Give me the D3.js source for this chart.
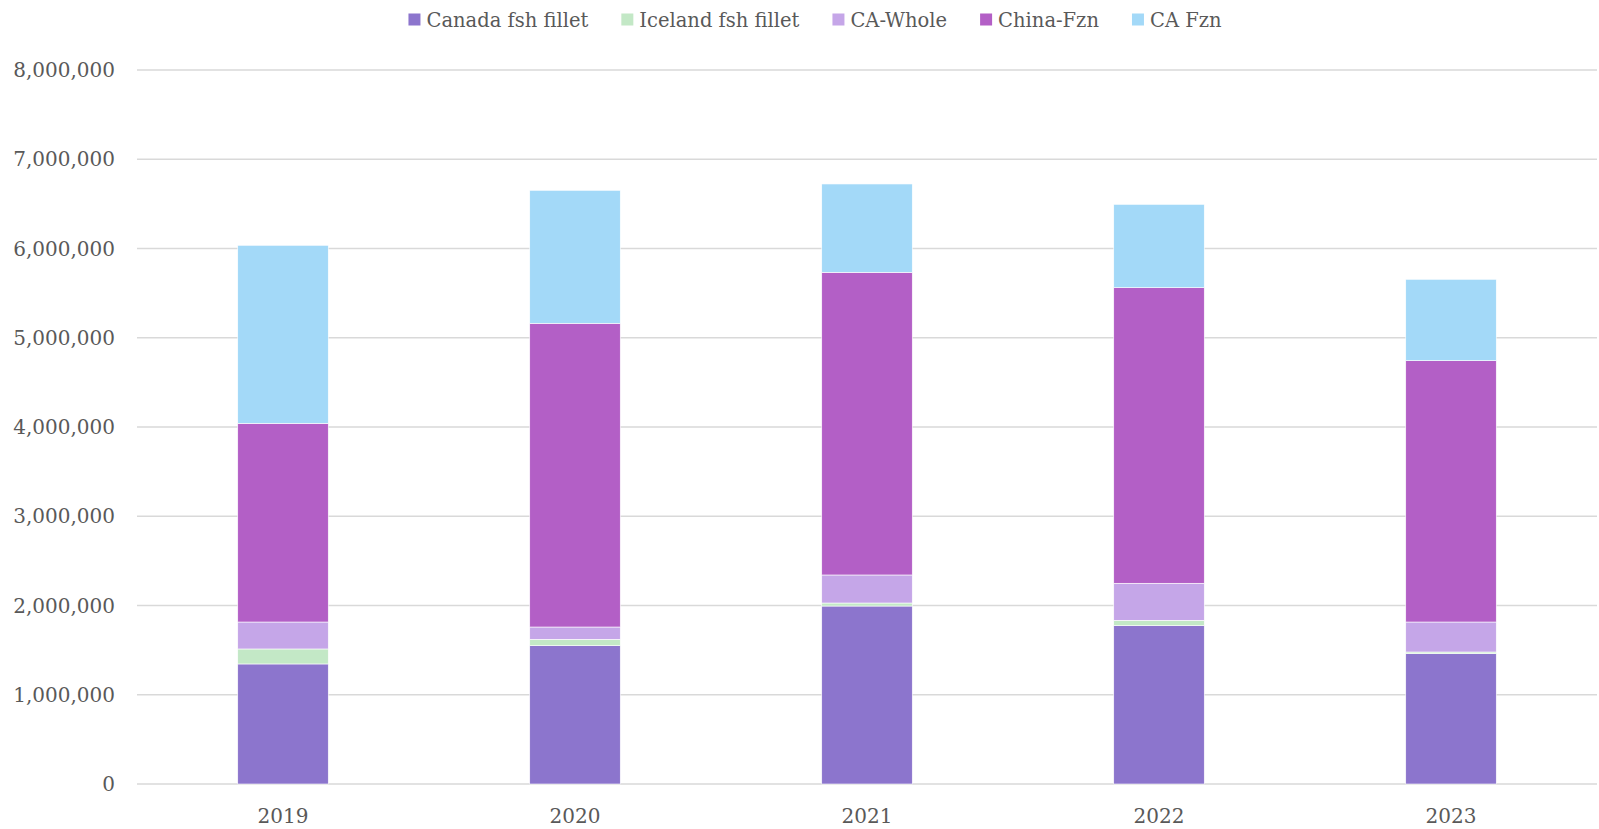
<!DOCTYPE html>
<html>
<head>
<meta charset="utf-8">
<script src="https://cdn.jsdelivr.net/npm/d3@7"></script>
<style>
  body { margin: 0; background: #fff; }
  text { font-family: "DejaVu Serif", serif; fill: #595959; }
</style>
</head>
<body>
<script>
// data
const years = ["2019", "2020", "2021", "2022", "2023"];
const seriesNames = ["Canada fsh fillet", "Iceland fsh fillet", "CA-Whole", "China-Fzn", "CA Fzn"];
const canadaFillet = [1345000, 1550000, 1994000, 1774000, 1460000];
const icelandFillet = [168000, 71000, 34000, 60000, 19000];
const caWhole = [302000, 138000, 314000, 415000, 336000];
const chinaFzn = [2226000, 3403000, 3391000, 3312000, 2928000];
const caFzn = [1995000, 1490000, 990000, 934000, 912000];
const colors = ["#8c75cd", "#c3e8c6", "#c5a6e8", "#b35fc6", "#a3d9f8"];
const yTicks = [0, 1000000, 2000000, 3000000, 4000000, 5000000, 6000000, 7000000, 8000000];

const width = 1599, height = 829;
const margin = {top: 70, right: 2, bottom: 45, left: 137};

const svg = d3.select("body").append("svg")
  .attr("width", width)
  .attr("height", height);

const table = years.map((y, i) => ({
  year: y,
  "Canada fsh fillet": canadaFillet[i],
  "Iceland fsh fillet": icelandFillet[i],
  "CA-Whole": caWhole[i],
  "China-Fzn": chinaFzn[i],
  "CA Fzn": caFzn[i]
}));

const stacked = d3.stack().keys(seriesNames)(table);

const x = d3.scaleBand()
  .domain(years)
  .range([margin.left, width - margin.right])
  .paddingInner(0.69)
  .paddingOuter(0.345);

const y = d3.scaleLinear()
  .domain([0, 8000000])
  .range([height - margin.bottom, margin.top]);

const color = d3.scaleOrdinal().domain(seriesNames).range(colors);

// gridlines
svg.append("g")
  .selectAll("line")
  .data(yTicks)
  .join("line")
  .attr("x1", margin.left)
  .attr("x2", width - margin.right)
  .attr("y1", d => y(d))
  .attr("y2", d => y(d))
  .attr("stroke", "#d9d9d9")
  .attr("stroke-width", 1.5);

// y labels
svg.append("g")
  .selectAll("text")
  .data(yTicks)
  .join("text")
  .attr("x", 115)
  .attr("y", d => y(d))
  .attr("dy", "0.36em")
  .attr("text-anchor", "end")
  .style("font-size", "20px")
  .text(d => d3.format(",")(d));

// bars
svg.append("g")
  .selectAll("g")
  .data(stacked)
  .join("g")
  .attr("fill", d => color(d.key))
  .selectAll("rect")
  .data(d => d)
  .join("rect")
  .attr("x", d => x(d.data.year))
  .attr("width", x.bandwidth())
  .attr("y", d => y(d[1]))
  .attr("height", d => y(d[0]) - y(d[1]))
  .attr("stroke", "#fff")
  .attr("stroke-width", 0.6);

// x labels
svg.append("g")
  .selectAll("text")
  .data(years)
  .join("text")
  .attr("x", d => x(d) + x.bandwidth() / 2)
  .attr("y", 823)
  .attr("text-anchor", "middle")
  .style("font-size", "20px")
  .text(d => d);

// legend
const legend = svg.append("g");
let lx = 0;
seriesNames.forEach(name => {
  const item = legend.append("g").attr("transform", `translate(${lx},0)`);
  item.append("rect")
    .attr("x", 0).attr("y", 13.5)
    .attr("width", 12).attr("height", 12)
    .attr("fill", color(name));
  const t = item.append("text")
    .attr("x", 18).attr("y", 19.5)
    .attr("dy", "0.36em")
    .style("font-size", "19.5px")
    .text(name);
  lx += 18 + t.node().getComputedTextLength() + 33;
});
const legendWidth = lx - 33;
legend.attr("transform", `translate(${815 - legendWidth / 2},0)`);
</script>
</body>
</html>
